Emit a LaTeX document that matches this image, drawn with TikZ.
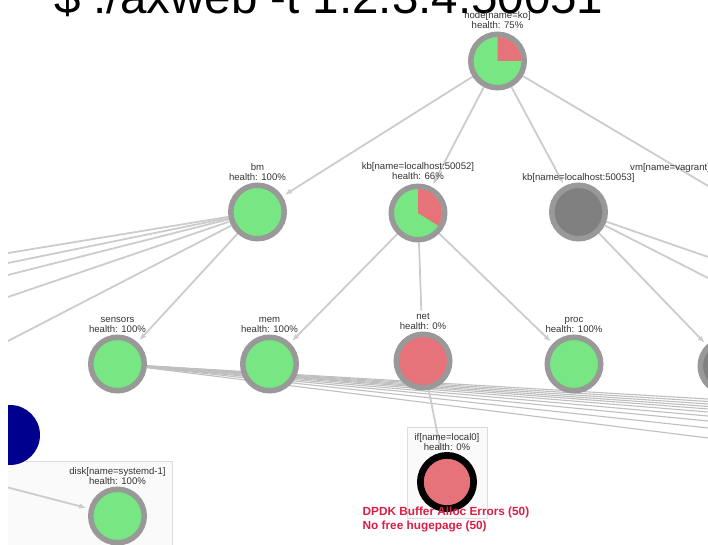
\documentclass[tikz,border=0pt]{standalone}
\usepackage{fontspec}
\setmainfont{Liberation Sans}
\usetikzlibrary{arrows.meta}

\definecolor{okgreen}{HTML}{77E683}
\definecolor{badred}{HTML}{E7737A}
\definecolor{ringgray}{HTML}{999999}
\definecolor{unkgray}{HTML}{808080}
\definecolor{edgegray}{HTML}{CCCCCC}
\definecolor{fangray}{HTML}{BFBFBF}
\definecolor{lbltext}{HTML}{333333}
\definecolor{selblue}{HTML}{00008E}
\definecolor{alertred}{HTML}{DC1E46}
\definecolor{boxfill}{HTML}{FAFAFA}
\definecolor{boxline}{HTML}{DDDDDD}

\pgfdeclarelayer{boxes}
\pgfdeclarelayer{edges}
\pgfsetlayers{boxes,edges,main}

\tikzset{
  hnode/.style={circle, inner sep=0pt, minimum size=53.5pt, line width=5.5pt,
                draw=ringgray, fill=okgreen},
  badnode/.style={hnode, fill=badred},
  unknode/.style={hnode, fill=unkgray},
  alertnode/.style={circle, inner sep=0pt, minimum size=53.3pt, line width=6.7pt,
                    draw=black, fill=badred},
  lbl/.style={font=\fontsize{9.6}{10.4}\selectfont, align=center, inner sep=0pt,
              text=lbltext, anchor=south},
  link/.style={draw=edgegray, line width=1.8pt},
  arr/.style={link, -{Latex[length=7pt,width=5.5pt]}, shorten >=2.75pt},
  fan/.style={draw=fangray, line width=1.1pt},
  groupbox/.style={draw=boxline, fill=boxfill, line width=0.8pt},
}

\begin{document}
\begin{tikzpicture}[x=1pt,y=1pt]
\useasboundingbox (0,0) rectangle (708,-545);

\begin{scope}
\clip (8,0) rectangle (708,-545);

% health nodes
\node[hnode]   (ko)      at (497.5,-61)  {};
\node[hnode]   (bm)      at (257.5,-212) {};
\node[hnode]   (kb52)    at (418,-213)   {};
\node[unknode] (kb53)    at (578.5,-212) {};
\node[hnode]   (sensors) at (117.5,-364) {};
\node[hnode]   (mem)     at (269.5,-364) {};
\node[badnode] (net)     at (423,-361)   {};
\node[hnode]   (proc)    at (574,-364)   {};
\node[unknode] (part)    at (727,-366)   {};
\node[hnode]   (disk)    at (117.5,-516) {};
\node[alertnode] (ifl0)  at (447,-482)   {};
\node[circle, fill=selblue, minimum size=60pt, inner sep=0pt] (sel) at (10,-435) {};

% partial-health wedges
\fill[badred] (ko.center) -- ++(90:24pt) arc[start angle=90, end angle=0, radius=24pt] -- cycle;
\fill[badred] (kb52.center) -- ++(90:24pt) arc[start angle=90, end angle=-32, radius=24pt] -- cycle;

% command line
\node[font=\fontsize{47.5}{47.5}\selectfont, anchor=base west, inner sep=0pt] (cmd)
      at (54,-13.5) {\$ ./axweb -t 1.2.3.4:50051};

% node captions
\node[lbl] (kolbl)   at ([yshift=32pt]ko.center)      {node[name=ko]\\health: 75\%};
\node[lbl] (bmlbl)   at ([yshift=31pt]bm.center)      {bm\\health: 100\%};
\node[lbl] (kb52lbl) at ([yshift=33pt]kb52.center)    {kb[name=localhost:50052]\\health: 66\%};
\node[lbl, anchor=base] (kb53lbl) at ([yshift=31pt]kb53.center) {kb[name=localhost:50053]};
\node[lbl, anchor=base west] (vmlbl) at (630,-170.5)  {vm[name=vagrant]};
\node[lbl] (senslbl) at ([yshift=31pt]sensors.center) {sensors\\health: 100\%};
\node[lbl] (memlbl)  at ([yshift=31pt]mem.center)     {mem\\health: 100\%};
\node[lbl] (netlbl)  at ([yshift=31pt]net.center)     {net\\health: 0\%};
\node[lbl] (proclbl) at ([yshift=31pt]proc.center)    {proc\\health: 100\%};
\node[lbl] (disklbl) at ([yshift=31pt]disk.center)    {disk[name=systemd-1]\\health: 100\%};
\node[lbl] (iflbl)   at ([yshift=31pt]ifl0.center)    {if[name=local0]\\health: 0\%};

% alert messages
\node[font=\bfseries\fontsize{11.8}{14}\selectfont, text=alertred, align=left,
      anchor=north west, inner sep=0pt] (alerts) at (362.5,-507)
      {DPDK Buffer Alloc Errors (50)\\No free hugepage (50)};
\end{scope}

% off-screen endpoints
\coordinate (vm)  at (752,-212);
\coordinate (b1)  at (-10,-256);
\coordinate (b2)  at (-10,-266.7);
\coordinate (b3)  at (-10,-279.5);
\coordinate (b4)  at (-10,-303.1);
\coordinate (b5)  at (-10,-350.3);
\coordinate (k3a) at (760,-275);
\coordinate (k3b) at (760,-304.5);
\coordinate (s1)  at (760,-402.1);
\coordinate (s2)  at (760,-404.8);
\coordinate (s3)  at (760,-407.5);
\coordinate (s4)  at (760,-410.2);
\coordinate (s5)  at (760,-412.9);
\coordinate (s6)  at (760,-416.2);
\coordinate (s7)  at (760,-420.6);
\coordinate (s8)  at (760,-426.0);
\coordinate (s9)  at (760,-433.6);
\coordinate (s10) at (760,-444.5);
\coordinate (dsrc) at (-40,-475);

% group frames
\begin{pgfonlayer}{boxes}
\begin{scope}
\clip (8,0) rectangle (708,-545);
\draw[groupbox] (-20,-461) rectangle (172,-560);
\draw[groupbox] (407,-427) rectangle (487,-518);
\end{scope}
\end{pgfonlayer}

% connectors
\begin{pgfonlayer}{edges}
\begin{scope}
\clip (8,0) rectangle (708,-545);
\draw[arr]  (ko) -- (bm);
\draw[arr]  (ko) -- (kb52);
\draw[arr]  (ko) -- (kb53);
\draw[link] (ko) -- (vm);
\foreach \t in {b1,b2,b3,b4,b5} { \draw[link] (bm) -- (\t); }
\draw[arr]  (bm) -- (sensors);
\draw[arr]  (kb52) -- (mem);
\draw[link, shorten >=21pt] (kb52) -- (net);
\draw[arr]  (kb52) -- (proc);
\draw[link] (kb53) -- (k3a);
\draw[link] (kb53) -- (k3b);
\draw[arr]  (kb53) -- (part);
\foreach \t in {s1,s2,s3,s4,s5,s6,s7,s8,s9,s10} { \draw[fan] (sensors) -- (\t); }
\draw[link, shorten >=3.35pt] (net) -- (ifl0);
\draw[arr]  (dsrc) -- (disk);
\end{scope}
\end{pgfonlayer}
\end{tikzpicture}
\end{document}
